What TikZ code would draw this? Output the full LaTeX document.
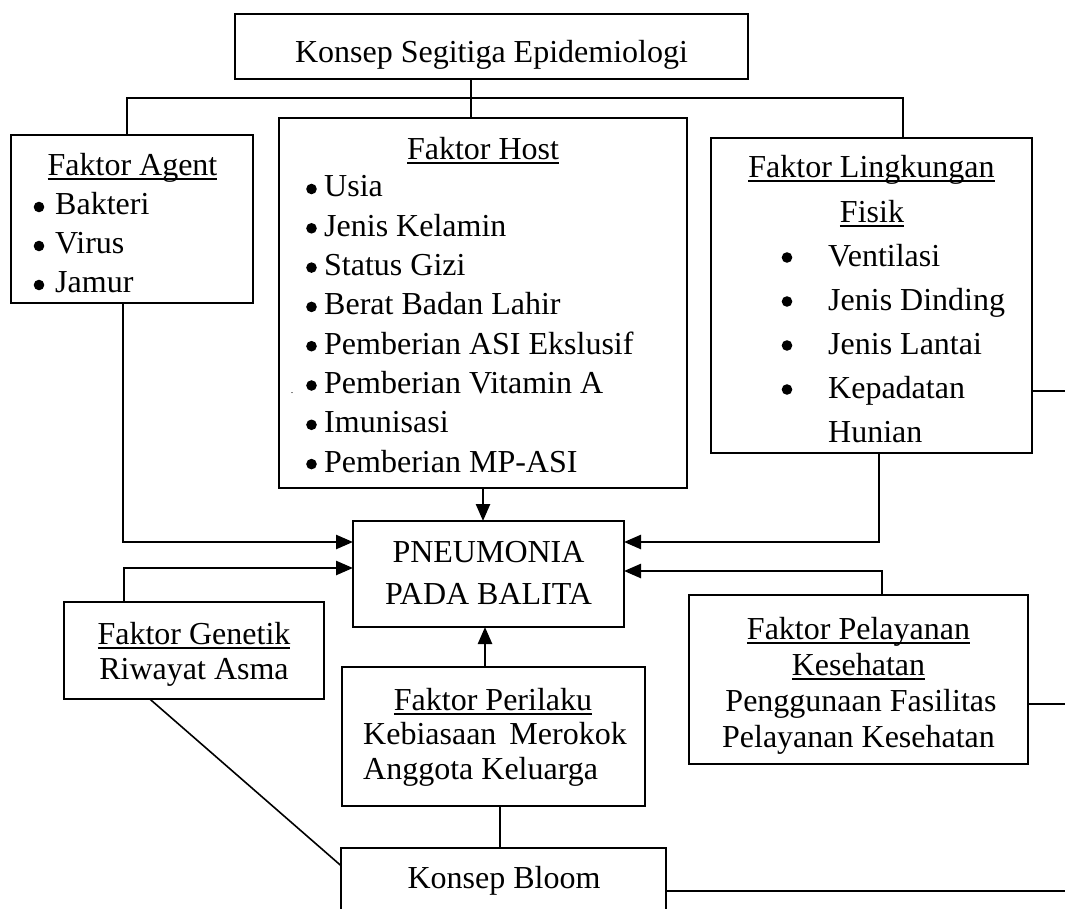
\documentclass[tikz,border=0pt]{standalone}
\usepackage{fontspec}
\setmainfont{Liberation Serif}
\usetikzlibrary{arrows.meta,calc}
\newcommand\myul[1]{\setbox0\hbox{#1}\rlap{\rule[-4.5pt]{\wd0}{2pt}}\box0}
\begin{document}
\begin{tikzpicture}[x=1pt,y=-1pt,
  box/.style={draw,line width=2.2pt,inner sep=0pt,outer sep=0pt},
  txt/.style={inner sep=0pt,font=\fontsize{32}{38}\selectfont,anchor=base},
  ltxt/.style={txt,anchor=base west},
  conn/.style={line width=2.5pt},
  arr/.style={conn,-{Triangle[length=17pt,width=14pt]}},
  thinln/.style={line width=1.6pt},
  bul/.style={fill=black}]
\useasboundingbox (0,0) rectangle (1065,909);
\fill[white] (0,0) rectangle (1065,909);
\clip (0,0) rectangle (1065,909);

% boxes
\node[box,minimum width=513pt,minimum height=65pt] (top) at (491.5,46.5) {};
\node[box,minimum width=242pt,minimum height=168pt] (agent) at (132,219) {};
\node[box,minimum width=408pt,minimum height=370pt] (host) at (483,303) {};
\node[box,minimum width=321pt,minimum height=315pt] (ling) at (871.5,295.5) {};
\node[box,minimum width=271pt,minimum height=106pt] (pneu) at (488.5,574) {};
\node[box,minimum width=260pt,minimum height=97pt] (gen) at (194,650.5) {};
\node[box,minimum width=339pt,minimum height=169pt] (pel) at (858.5,679.5) {};
\node[box,minimum width=303pt,minimum height=139pt] (peril) at (493.5,736.5) {};
\node[box,minimum width=325pt,minimum height=84pt] (bloom) at (503.5,890) {};

% texts
\node[txt] (ttop) at (491.5,63) {Konsep Segitiga Epidemiologi};

\node[txt] (tag) at (132.5,176) {\myul{Faktor Agent}};
\node[ltxt] (ta1) at (55,215) {Bakteri};
\node[ltxt] (ta2) at (55,254) {Virus};
\node[ltxt] (ta3) at (55,293) {Jamur};
\foreach \yy in {215,254,293} \fill[bul] (39,\yy-8) circle (5.3);

\node[txt] (tho) at (483,160) {\myul{Faktor Host}};
\node[ltxt] (th1) at (324,197) {Usia};
\node[ltxt] (th2) at (324,236.3) {Jenis Kelamin};
\node[ltxt] (th3) at (324,275.6) {Status Gizi};
\node[ltxt] (th4) at (324,314.9) {Berat Badan Lahir};
\node[ltxt] (th5) at (324,354.2) {Pemberian ASI Ekslusif};
\node[ltxt] (th6) at (324,393.5) {Pemberian Vitamin A};
\node[ltxt] (th7) at (324,432.8) {Imunisasi};
\node[ltxt] (th8) at (324,472.1) {Pemberian MP-ASI};
\foreach \yy in {197,236.3,275.6,314.9,354.2,393.5,432.8,472.1} \fill[bul] (311.5,\yy-8) circle (5.3);
\node[inner sep=0pt,font=\fontsize{10}{12}\selectfont,anchor=base] (tdot) at (292,393.5) {.};

\node[txt] (tli) at (871.5,178) {\myul{Faktor Lingkungan}};
\node[txt] (tlf) at (872,223) {\myul{Fisik}};
\node[ltxt] (tl1) at (828,266) {Ventilasi};
\node[ltxt] (tl2) at (828,310) {Jenis Dinding};
\node[ltxt] (tl3) at (828,354) {Jenis Lantai};
\node[ltxt] (tl4) at (828,398) {Kepadatan};
\node[ltxt] (tl5) at (828,442) {Hunian};
\foreach \yy in {266,310,354,398} \fill[bul] (787,\yy-8.5) circle (5.3);

\node[txt] (tp1) at (488.5,562) {PNEUMONIA};
\node[txt] (tp2) at (488.5,604) {PADA BALITA};

\node[txt] (tg1) at (194,644) {\myul{Faktor Genetik}};
\node[txt] (tg2) at (194,679) {Riwayat Asma};

\node[txt] (tpe1) at (858.5,639) {\myul{Faktor Pelayanan}};
\node[txt] (tpe2) at (858.5,675) {\myul{Kesehatan}};
\node[txt] (tpe3) at (861,711) {Penggunaan Fasilitas};
\node[txt] (tpe4) at (858.5,747) {Pelayanan Kesehatan};

\node[txt] (tr1) at (493,710) {\myul{Faktor Perilaku}};
\node[ltxt] (tr2) at (363,744) {Kebiasaan\hspace{13pt}Merokok};
\node[ltxt] (tr3) at (363,779) {Anggota Keluarga};

\node[txt] (tb) at (504,888) {Konsep Bloom};

% junction coordinates
\coordinate (j) at (471,98);
\coordinate (bl) at (127,98);
\coordinate (br) at (903,98);
\coordinate (a1) at (123,542);
\coordinate (l1) at (879,542);
\coordinate (g1) at (124,568);
\coordinate (p1) at (882,571);
\coordinate (px) at (485,650);
\coordinate (b1) at (500,827);
\coordinate (e1) at (1065,391);
\coordinate (e2) at (1065,704);
\coordinate (e3) at (1065,891);

% connectors
\draw[conn] (bl |- agent.north) -- (bl) -- (br) -- (br |- ling.north);
\draw[conn] (top.south -| j) -- (host.north -| j);
\draw[arr] (agent.south -| a1) -- (a1) -- (pneu.west |- a1);
\draw[arr] (host.south) -- (host.south |- pneu.north);
\draw[arr] (ling.south -| l1) -- (l1) -- (pneu.east |- l1);
\draw[arr] (gen.north -| g1) -- (g1) -- (pneu.west |- g1);
\draw[arr] (pel.north -| p1) -- (p1) -- (pneu.east |- p1);
\draw[arr] (peril.north -| px) -- (pneu.south -| px);
\draw[thinln] (peril.south -| b1) -- (bloom.north -| b1);
\draw[thinln] ($(gen.south west)!0.33!(gen.south east)$) -- ($(bloom.north west)!0.21!(bloom.south west)$);
\draw[conn] (ling.east |- e1) -- (e1);
\draw[conn] (pel.east |- e2) -- (e2);
\draw[conn] (bloom.east |- e3) -- (e3);
\end{tikzpicture}
\end{document}
